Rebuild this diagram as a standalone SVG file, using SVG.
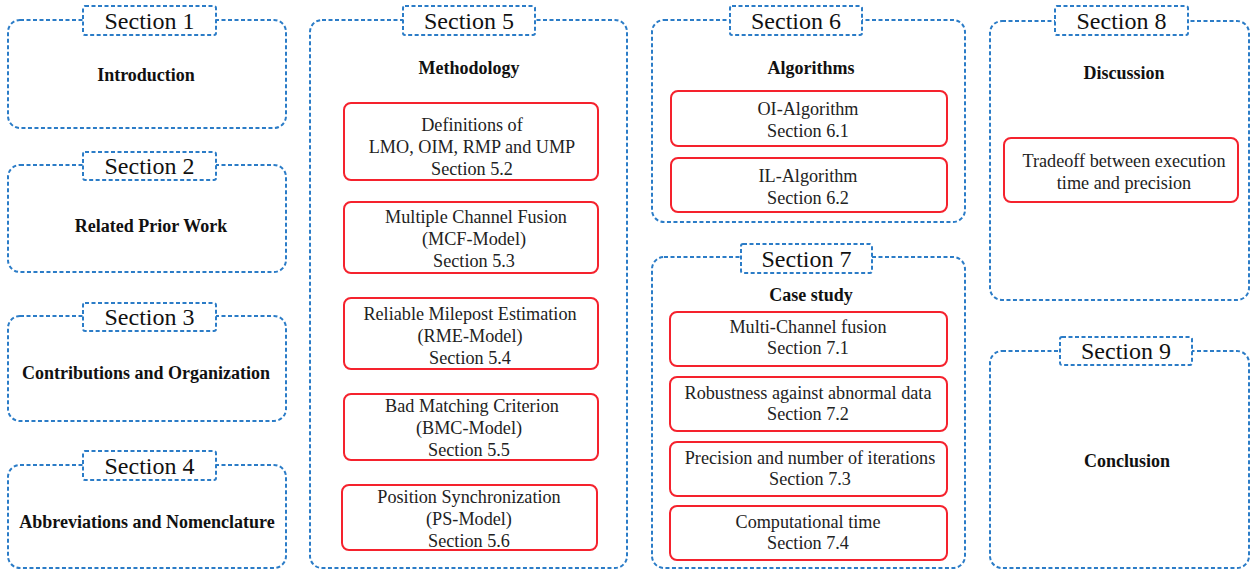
<svg xmlns="http://www.w3.org/2000/svg" width="1253" height="571" viewBox="0 0 1253 571">
  <style>
    .frame { fill: none; stroke: #2b7cc7; stroke-width: 2; stroke-dasharray: 4 2.5; }
    .tag { fill: #ffffff; stroke: #2b7cc7; stroke-width: 2; stroke-dasharray: 4 2.5; }
    .item { fill: #ffffff; stroke: #f5222d; stroke-width: 2; }
    .tagtxt { font-family: "Liberation Serif", "Times New Roman", serif; font-size: 24px; fill: #111111; text-anchor: middle; }
    .title { font-family: "Liberation Serif", "Times New Roman", serif; font-size: 18px; font-weight: bold; fill: #111111; text-anchor: middle; }
    .body { font-family: "Liberation Serif", "Times New Roman", serif; font-size: 18.2px; fill: #222222; text-anchor: middle; }
  </style>
  <rect width="1253" height="571" fill="#ffffff"/>

  <!-- Column 1 -->
  <g id="section1">
    <rect class="frame" x="8" y="20" width="278" height="108" rx="12"/>
    <rect class="tag" x="83" y="6" width="133" height="29" rx="2"/>
    <text class="tagtxt" x="149.5" y="29">Section 1</text>
    <text class="title" x="146" y="81">Introduction</text>
  </g>
  <g id="section2">
    <rect class="frame" x="8" y="165" width="278" height="107" rx="12"/>
    <rect class="tag" x="83" y="152" width="133" height="28" rx="2"/>
    <text class="tagtxt" x="149.5" y="174">Section 2</text>
    <text class="title" x="151" y="232">Related Prior Work</text>
  </g>
  <g id="section3">
    <rect class="frame" x="8" y="316" width="278" height="105" rx="12"/>
    <rect class="tag" x="83" y="303" width="133" height="28" rx="2"/>
    <text class="tagtxt" x="149.5" y="325">Section 3</text>
    <text class="title" x="146" y="379">Contributions and Organization</text>
  </g>
  <g id="section4">
    <rect class="frame" x="8" y="465" width="278" height="103" rx="12"/>
    <rect class="tag" x="83" y="451" width="133" height="29" rx="2"/>
    <text class="tagtxt" x="149.5" y="474">Section 4</text>
    <text class="title" x="147" y="528">Abbreviations and Nomenclature</text>
  </g>

  <!-- Column 2 -->
  <g id="section5">
    <rect class="frame" x="310" y="20" width="317" height="548" rx="12"/>
    <rect class="tag" x="403" y="6" width="132" height="29" rx="2"/>
    <text class="tagtxt" x="469" y="29">Section 5</text>
    <text class="title" x="469" y="74">Methodology</text>
  </g>
  <g id="s5-2">
    <rect class="item" x="344" y="103" width="254" height="77" rx="7"/>
    <text class="body" x="472" y="131">Definitions of</text>
    <text class="body" x="472" y="153">LMO, OIM, RMP and UMP</text>
    <text class="body" x="472" y="175">Section 5.2</text>
  </g>
  <g id="s5-3">
    <rect class="item" x="344" y="202" width="254" height="71" rx="7"/>
    <text class="body" x="476" y="223">Multiple Channel Fusion</text>
    <text class="body" x="474" y="245">(MCF-Model)</text>
    <text class="body" x="474" y="267">Section 5.3</text>
  </g>
  <g id="s5-4">
    <rect class="item" x="344" y="298" width="254" height="71" rx="7"/>
    <text class="body" x="470" y="320">Reliable Milepost Estimation</text>
    <text class="body" x="470" y="342">(RME-Model)</text>
    <text class="body" x="470" y="364">Section 5.4</text>
  </g>
  <g id="s5-5">
    <rect class="item" x="344" y="394" width="254" height="66" rx="7"/>
    <text class="body" x="472" y="412">Bad Matching Criterion</text>
    <text class="body" x="469" y="434">(BMC-Model)</text>
    <text class="body" x="469" y="456">Section 5.5</text>
  </g>
  <g id="s5-6">
    <rect class="item" x="342" y="485" width="255" height="65" rx="7"/>
    <text class="body" x="469" y="503">Position Synchronization</text>
    <text class="body" x="469" y="525">(PS-Model)</text>
    <text class="body" x="469" y="547">Section 5.6</text>
  </g>

  <!-- Column 3 -->
  <g id="section6">
    <rect class="frame" x="652" y="20" width="313" height="202" rx="12"/>
    <rect class="tag" x="730" y="6" width="132" height="29" rx="2"/>
    <text class="tagtxt" x="796" y="29">Section 6</text>
    <text class="title" x="811" y="74">Algorithms</text>
  </g>
  <g id="s6-1">
    <rect class="item" x="671" y="91" width="276" height="55" rx="7"/>
    <text class="body" x="808" y="115">OI-Algorithm</text>
    <text class="body" x="808" y="137">Section 6.1</text>
  </g>
  <g id="s6-2">
    <rect class="item" x="671" y="158" width="276" height="54" rx="7"/>
    <text class="body" x="808" y="182">IL-Algorithm</text>
    <text class="body" x="808" y="204">Section 6.2</text>
  </g>
  <g id="section7">
    <rect class="frame" x="652" y="257" width="313" height="311" rx="12"/>
    <rect class="tag" x="741" y="244" width="131" height="29" rx="2"/>
    <text class="tagtxt" x="806.5" y="267">Section 7</text>
    <text class="title" x="811" y="301">Case study</text>
  </g>
  <g id="s7-1">
    <rect class="item" x="670" y="312" width="277" height="54" rx="7"/>
    <text class="body" x="808" y="333">Multi-Channel fusion</text>
    <text class="body" x="808" y="354">Section 7.1</text>
  </g>
  <g id="s7-2">
    <rect class="item" x="670" y="377" width="277" height="54" rx="7"/>
    <text class="body" x="808" y="399">Robustness against abnormal data</text>
    <text class="body" x="808" y="420">Section 7.2</text>
  </g>
  <g id="s7-3">
    <rect class="item" x="670" y="442" width="277" height="54" rx="7"/>
    <text class="body" x="810" y="464">Precision and number of iterations</text>
    <text class="body" x="810" y="485">Section 7.3</text>
  </g>
  <g id="s7-4">
    <rect class="item" x="670" y="506" width="277" height="54" rx="7"/>
    <text class="body" x="808" y="528">Computational time</text>
    <text class="body" x="808" y="549">Section 7.4</text>
  </g>

  <!-- Column 4 -->
  <g id="section8">
    <rect class="frame" x="990" y="21" width="259" height="279" rx="12"/>
    <rect class="tag" x="1055" y="6" width="133" height="29" rx="2"/>
    <text class="tagtxt" x="1121.5" y="29">Section 8</text>
    <text class="title" x="1124" y="79">Discussion</text>
  </g>
  <g id="s8-1">
    <rect class="item" x="1004" y="138" width="234" height="64" rx="7"/>
    <text class="body" x="1124" y="167">Tradeoff between execution</text>
    <text class="body" x="1124" y="189">time and precision</text>
  </g>
  <g id="section9">
    <rect class="frame" x="990" y="351" width="259" height="217" rx="12"/>
    <rect class="tag" x="1060" y="337" width="132" height="28" rx="2"/>
    <text class="tagtxt" x="1126" y="359">Section 9</text>
    <text class="title" x="1127" y="467">Conclusion</text>
  </g>

  <!-- no connectors are drawn between the sections -->
  <g id="connectors"/>
</svg>
